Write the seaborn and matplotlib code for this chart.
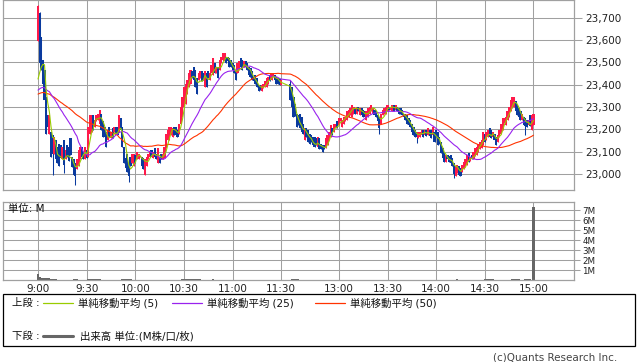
import numpy as np
import pandas as pd
import seaborn as sns
import matplotlib.pyplot as plt
from matplotlib.lines import Line2D
from matplotlib.patches import Rectangle

# previous session closes (seed for the moving averages)
prev_close = [23330, 23335, 23340, 23345, 23340, 23335, 23330, 23335, 23345, 23350,
              23345, 23340, 23335, 23340, 23345, 23340, 23335, 23330, 23335, 23340,
              23345, 23350, 23345, 23340, 23340,
              23350, 23355, 23360, 23365, 23370, 23365, 23360, 23365, 23370, 23375,
              23370, 23365, 23360, 23365, 23370, 23365, 23360, 23355, 23360, 23355,
              23350, 23345, 23340, 23340]

# morning session 9:00-11:30, 1 minute bars
am_open = [23595, 23720, 23615, 23510, 23465, 23345, 23265, 23180, 23190, 23175,
           23090, 23150, 23120, 23135, 23130, 23065, 23150, 23065, 23130, 23120,
           23160, 23075, 23065, 23050, 23020, 23035, 23065, 23120, 23100, 23065,
           23105, 23075, 23180, 23190, 23265, 23210, 23235, 23240, 23225, 23270,
           23235, 23210, 23190, 23150, 23210, 23160, 23205, 23190, 23210, 23210,
           23190, 23250, 23210, 23120, 23070, 23090, 23050, 23075, 23050, 23035,
           23085, 23065, 23065, 23075, 23075, 23070, 22995, 23035, 23065, 23075,
           23105, 23070, 23115, 23090, 23050, 23075, 23090, 23065, 23070, 23115,
           23150, 23150, 23175, 23165, 23210, 23210, 23195, 23180, 23225, 23255,
           23300, 23315, 23360, 23390, 23405, 23460, 23480, 23465, 23430, 23420,
           23430, 23460, 23450, 23390, 23450, 23460, 23420, 23450, 23445, 23495,
           23450, 23480, 23465, 23495, 23510, 23505, 23525, 23525, 23520, 23510,
           23495, 23490, 23465, 23450, 23465, 23520, 23510, 23480, 23505, 23495,
           23480, 23475, 23460, 23435, 23445, 23430, 23400, 23400, 23370, 23385,
           23390, 23390, 23405, 23445, 23420, 23435, 23445, 23435, 23430, 23425,
           23400]
am_close = [23750, 23495, 23465, 23405, 23330, 23180, 23210, 23265, 23075, 23090,
            23165, 23065, 23050, 23035, 23070, 23120, 23040, 23105, 23075, 23060,
            23085, 23030, 22995, 22990, 23065, 23105, 23120, 23075, 23065, 23120,
            23070, 23210, 23265, 23265, 23195, 23240, 23265, 23270, 23285, 23195,
            23165, 23165, 23120, 23195, 23165, 23190, 23160, 23210, 23180, 23175,
            23265, 23195, 23120, 23050, 23025, 23010, 22990, 23035, 23090, 23090,
            23050, 23100, 23090, 23080, 23035, 23020, 23065, 23075, 23090, 23100,
            23075, 23100, 23075, 23065, 23115, 23050, 23065, 23090, 23120, 23180,
            23195, 23210, 23210, 23205, 23175, 23175, 23165, 23225, 23300, 23345,
            23390, 23405, 23420, 23450, 23465, 23430, 23420, 23390, 23360, 23450,
            23460, 23415, 23420, 23460, 23390, 23430, 23450, 23490, 23520, 23450,
            23480, 23430, 23510, 23525, 23540, 23540, 23495, 23505, 23480, 23480,
            23465, 23450, 23420, 23495, 23505, 23480, 23465, 23505, 23480, 23465,
            23445, 23435, 23420, 23415, 23405, 23390, 23370, 23375, 23400, 23405,
            23415, 23430, 23435, 23415, 23450, 23450, 23420, 23405, 23405, 23400,
            23420]
am_wick_high = {0: 23755, 1: 23725}
am_wick_low = {9: 22995, 16: 23005, 23: 22950, 56: 22965, 66: 22995}

# afternoon session 12:30-15:00
pm_open = [23405, 23390, 23345, 23315, 23270, 23265,
           23270, 23255, 23225, 23150, 23205, 23195, 23180, 23175, 23165, 23165,
           23160, 23120, 23160, 23135, 23130, 23130, 23115, 23130, 23150, 23165,
           23205, 23190, 23205, 23235, 23220, 23235,
           23210, 23225, 23235, 23240, 23255, 23265, 23255, 23270, 23295, 23270,
           23300, 23265, 23295, 23285, 23280, 23240, 23255, 23270, 23280, 23270,
           23285, 23280, 23265, 23255, 23225, 23265, 23270, 23270, 23280, 23300,
           23285,
           23280, 23310, 23285, 23300, 23295, 23295, 23285, 23270, 23270, 23265,
           23250, 23240, 23225, 23210, 23195, 23190, 23160, 23165, 23175, 23195,
           23175, 23195, 23175, 23195, 23195, 23175, 23190,
           23195, 23190, 23165, 23145, 23115, 23100, 23055, 23085, 23080, 23085,
           23070, 23050, 22990, 23005, 23035, 23025, 23010, 23020, 23035, 23040,
           23095, 23060, 23085, 23065, 23080, 23085, 23100, 23110, 23115, 23130,
           23180, 23150, 23165, 23205, 23195, 23165, 23180, 23165, 23145, 23165,
           23180, 23195, 23230, 23220, 23240, 23255, 23280, 23295, 23300, 23325,
           23310, 23295, 23280, 23240, 23255, 23250, 23240, 23220, 23265, 23195,
           23220]
pm_close = [23330, 23300, 23255, 23260, 23210, 23220,
            23205, 23190, 23180, 23205, 23165, 23145, 23135, 23145, 23130, 23120,
            23130, 23165, 23110, 23110, 23100, 23110, 23160, 23175, 23190, 23220,
            23175, 23225, 23225, 23205, 23250, 23250,
            23240, 23255, 23255, 23280, 23285, 23295, 23310, 23300, 23270, 23300,
            23280, 23295, 23265, 23255, 23255, 23280, 23295, 23300, 23310, 23295,
            23265, 23255, 23235, 23205, 23270, 23285, 23295, 23300, 23310, 23285,
            23300,
            23310, 23280, 23310, 23280, 23270, 23270, 23265, 23255, 23240, 23225,
            23220, 23210, 23190, 23175, 23165, 23165, 23190, 23190, 23195, 23165,
            23195, 23170, 23205, 23170, 23160, 23210, 23145,
            23165, 23130, 23135, 23095, 23070, 23055, 23085, 23065, 23055, 23050,
            23035, 23000, 23035, 23040, 22995, 22990, 23040, 23055, 23065, 23085,
            23055, 23075, 23065, 23100, 23115, 23120, 23135, 23145, 23150, 23190,
            23145, 23190, 23195, 23165, 23160, 23190, 23150, 23130, 23175, 23195,
            23225, 23250, 23250, 23255, 23280, 23300, 23330, 23345, 23345, 23280,
            23265, 23255, 23240, 23270, 23220, 23215, 23210, 23240, 23215, 23265,
            23270]
pm_wick_high = {0: 23420}
pm_wick_low = {55: 23180, 78: 23138, 101: 22980, 145: 23175}

# volume in millions
am_vol = [0.57, 0.33, 0.22, 0.20, 0.18, 0.20, 0.16, 0.18, 0.14, 0.12,
          0.10, 0.08, 0.05, 0.04, 0.03, 0.03, 0.03, 0.02, 0.02, 0.03,
          0.03, 0.04, 0.10, 0.10, 0.09, 0.04, 0.03, 0.03, 0.02, 0.02,
          0.03, 0.10, 0.09, 0.10, 0.08, 0.09, 0.10, 0.08, 0.10, 0.04,
          0.03, 0.03, 0.02, 0.02, 0.03, 0.02, 0.02, 0.03, 0.02, 0.02,
          0.03, 0.04, 0.10, 0.09, 0.10, 0.10, 0.09, 0.10, 0.04, 0.03,
          0.02, 0.02, 0.03, 0.02, 0.02, 0.03, 0.02, 0.02, 0.02, 0.02,
          0.02, 0.03, 0.02, 0.02, 0.02, 0.02, 0.03, 0.02, 0.02, 0.03,
          0.02, 0.03, 0.02, 0.02, 0.03, 0.02, 0.02, 0.03, 0.04, 0.10,
          0.09, 0.10, 0.10, 0.09, 0.08, 0.10, 0.09, 0.10, 0.08, 0.09,
          0.10, 0.04, 0.03, 0.02, 0.03, 0.02, 0.03, 0.04, 0.10, 0.04,
          0.03, 0.02, 0.02, 0.03, 0.03, 0.02, 0.02, 0.02, 0.03, 0.02,
          0.02, 0.02, 0.03, 0.02, 0.02, 0.02, 0.02, 0.03, 0.02, 0.02,
          0.02, 0.02, 0.02, 0.03, 0.02, 0.02, 0.02, 0.02, 0.02, 0.02,
          0.02, 0.03, 0.02, 0.02, 0.02, 0.02, 0.02, 0.02, 0.03, 0.03,
          0.04]
pm_vol = [0.04, 0.10, 0.10, 0.09, 0.10, 0.09, 0.04, 0.03, 0.03, 0.02,
          0.02, 0.03, 0.02, 0.02, 0.03, 0.02, 0.02, 0.02, 0.03, 0.02,
          0.02, 0.02, 0.03, 0.02, 0.02, 0.03, 0.02, 0.02, 0.02, 0.02,
          0.03, 0.02, 0.02, 0.02, 0.03, 0.02, 0.02, 0.02, 0.02, 0.03,
          0.02, 0.02, 0.03, 0.02, 0.02, 0.02, 0.02, 0.03, 0.02, 0.02,
          0.02, 0.03, 0.02, 0.02, 0.02, 0.02, 0.03, 0.02, 0.02, 0.02,
          0.02, 0.02, 0.03, 0.02, 0.02, 0.02, 0.02, 0.03, 0.02, 0.02,
          0.02, 0.03, 0.02, 0.02, 0.02, 0.02, 0.02, 0.03, 0.02, 0.02,
          0.02, 0.02, 0.03, 0.02, 0.02, 0.02, 0.03, 0.02, 0.02, 0.02,
          0.02, 0.03, 0.02, 0.02, 0.02, 0.02, 0.02, 0.03, 0.02, 0.02,
          0.03, 0.03, 0.04, 0.10, 0.04, 0.03, 0.02, 0.02, 0.03, 0.02,
          0.02, 0.03, 0.02, 0.02, 0.02, 0.03, 0.02, 0.02, 0.03, 0.04,
          0.10, 0.09, 0.10, 0.10, 0.09, 0.10, 0.04, 0.03, 0.03, 0.02,
          0.03, 0.02, 0.03, 0.03, 0.04, 0.03, 0.04, 0.10, 0.09, 0.10,
          0.10, 0.09, 0.04, 0.03, 0.04, 0.10, 0.09, 0.10, 0.10, 0.05,
          7.30]

tick_labels = ['9:00', '9:30', '10:00', '10:30', '11:00', '11:30',
               '13:00', '13:30', '14:00', '14:30', '15:00']
price_ticks = [23000, 23100, 23200, 23300, 23400, 23500, 23600, 23700]
vol_ticks = [1, 2, 3, 4, 5, 6, 7]

# bar positions: minute index, lunch break squeezed into a short gap
am_pos = np.arange(len(am_close), dtype=float)
pm_pos = 155.5 + np.arange(len(pm_close), dtype=float)
tick_pos = [0, 30, 60, 90, 120, 150, 185.5, 215.5, 245.5, 275.5, 305.5]

df = pd.DataFrame({
    'pos': np.r_[am_pos, pm_pos],
    'open': am_open + pm_open,
    'close': am_close + pm_close,
    'volume': am_vol + pm_vol,
})
df['high'] = df[['open', 'close']].max(axis=1)
df['low'] = df[['open', 'close']].min(axis=1)
n_am = len(am_close)
for i, v in am_wick_high.items():
    df.loc[i, 'high'] = v
for i, v in am_wick_low.items():
    df.loc[i, 'low'] = v
for i, v in pm_wick_high.items():
    df.loc[n_am + i, 'high'] = v
for i, v in pm_wick_low.items():
    df.loc[n_am + i, 'low'] = v

all_close = pd.Series(prev_close + list(df['close']))
for n in (5, 25, 50):
    df[f'sma{n}'] = all_close.rolling(n).mean().iloc[len(prev_close):].values

sns.set_theme(style='white')
plt.rcParams['font.family'] = ['DejaVu Sans', 'Noto Sans CJK JP']

RED = '#ff1a4a'
BLUE = '#0a3a9e'
GREEN = '#99cc00'
PURPLE = '#9922ee'
ORANGE = '#ff3300'
GRID = '#a0a0a0'

W, H = 638, 362
fig = plt.figure(figsize=(W / 100, H / 100), dpi=100)
fig.patch.set_facecolor('white')
ax = fig.add_axes([3 / W, 1 - 190 / H, 571 / W, 190 / H])
axv = fig.add_axes([3 / W, 1 - 280 / H, 571 / W, 78 / H])

xlim = (-21.6, 330.5)

# candles
up = df['close'] >= df['open']
colors = np.where(up, RED, BLUE)
body = (df['close'] - df['open']).abs().clip(lower=3)
ax.vlines(df['pos'], df['low'], df['high'], colors=colors, lw=0.75, zorder=2)
ax.bar(df['pos'], body, bottom=df[['open', 'close']].min(axis=1), width=1.3,
       color=colors, linewidth=0, zorder=2)

# moving averages
sns.lineplot(data=df, x='pos', y='sma50', color=ORANGE, lw=0.8, ax=ax, zorder=3)
sns.lineplot(data=df, x='pos', y='sma25', color=PURPLE, lw=0.8, ax=ax, zorder=3)
sns.lineplot(data=df, x='pos', y='sma5', color=GREEN, lw=0.8, ax=ax, zorder=3)

ax.set_xlim(xlim)
ax.set_ylim(22928, 23779)
ax.set_xticks(tick_pos)
ax.set_yticks(price_ticks)
ax.set_yticklabels([f'{v:,}' for v in price_ticks])
ax.yaxis.tick_right()
ax.set_xlabel('')
ax.set_ylabel('')
ax.grid(True, color=GRID, lw=0.75)
ax.set_axisbelow(True)
ax.tick_params(axis='x', length=0, labelbottom=False)
ax.tick_params(axis='y', length=6, width=0.75, color=GRID, labelsize=7.5, pad=2,
               direction='out', labelcolor='#222222')
for s in ax.spines.values():
    s.set_color(GRID)
    s.set_linewidth(0.9)

# volume
axv.bar(df['pos'], df['volume'], width=1.3, color='#666666', linewidth=0, zorder=2)
axv.set_xlim(xlim)
axv.set_ylim(0, 7.8)
axv.set_xticks(tick_pos)
axv.set_xticklabels(tick_labels)
axv.set_yticks(vol_ticks)
axv.set_yticklabels([f'{v}M' for v in vol_ticks])
axv.yaxis.tick_right()
axv.grid(True, color=GRID, lw=0.75)
axv.set_axisbelow(True)
axv.tick_params(axis='x', length=0, labelsize=7.5, pad=3, labelcolor='#222222')
axv.tick_params(axis='y', length=4, width=0.75, color=GRID, labelsize=6.3, pad=2,
                direction='out', labelcolor='#222222')
for s in axv.spines.values():
    s.set_color(GRID)
    s.set_linewidth(0.9)
axv.text(0.009, 0.91, '単位: M', transform=axv.transAxes, fontsize=7.5,
         va='center', ha='left', color='#111111')


def fx(px):
    return px / W


def fy(py):
    return 1 - py / H


# legend box
fig.patches.append(Rectangle((fx(3), fy(346)), fx(632), 52 / H, transform=fig.transFigure,
                             fill=False, ec='black', lw=0.9))
fs = 7.5
fig.text(fx(12), fy(303), '上段 :', fontsize=fs, va='center', color='#111111')
legend_items = [(43, GREEN, '単純移動平均 (5)'), (172, PURPLE, '単純移動平均 (25)'),
                (315, ORANGE, '単純移動平均 (50)')]
for x0, c, label in legend_items:
    fig.lines.append(Line2D([fx(x0), fx(x0 + 30)], [fy(303), fy(303)],
                            transform=fig.transFigure, color=c, lw=0.9))
    fig.text(fx(x0 + 35), fy(303), label, fontsize=fs, va='center', color='#111111')
fig.text(fx(12), fy(336), '下段 :', fontsize=fs, va='center', color='#111111')
fig.lines.append(Line2D([fx(43), fx(73)], [fy(336), fy(336)], transform=fig.transFigure,
                        color='#666666', lw=2.2))
fig.text(fx(80), fy(336), '出来高 単位:(M株/口/枚)', fontsize=fs, va='center', color='#111111')

fig.text(fx(617), fy(357), '(c)Quants Research Inc.', fontsize=7.5, ha='right',
         va='center', color='#444444')

fig.savefig('out.png', dpi=100)
